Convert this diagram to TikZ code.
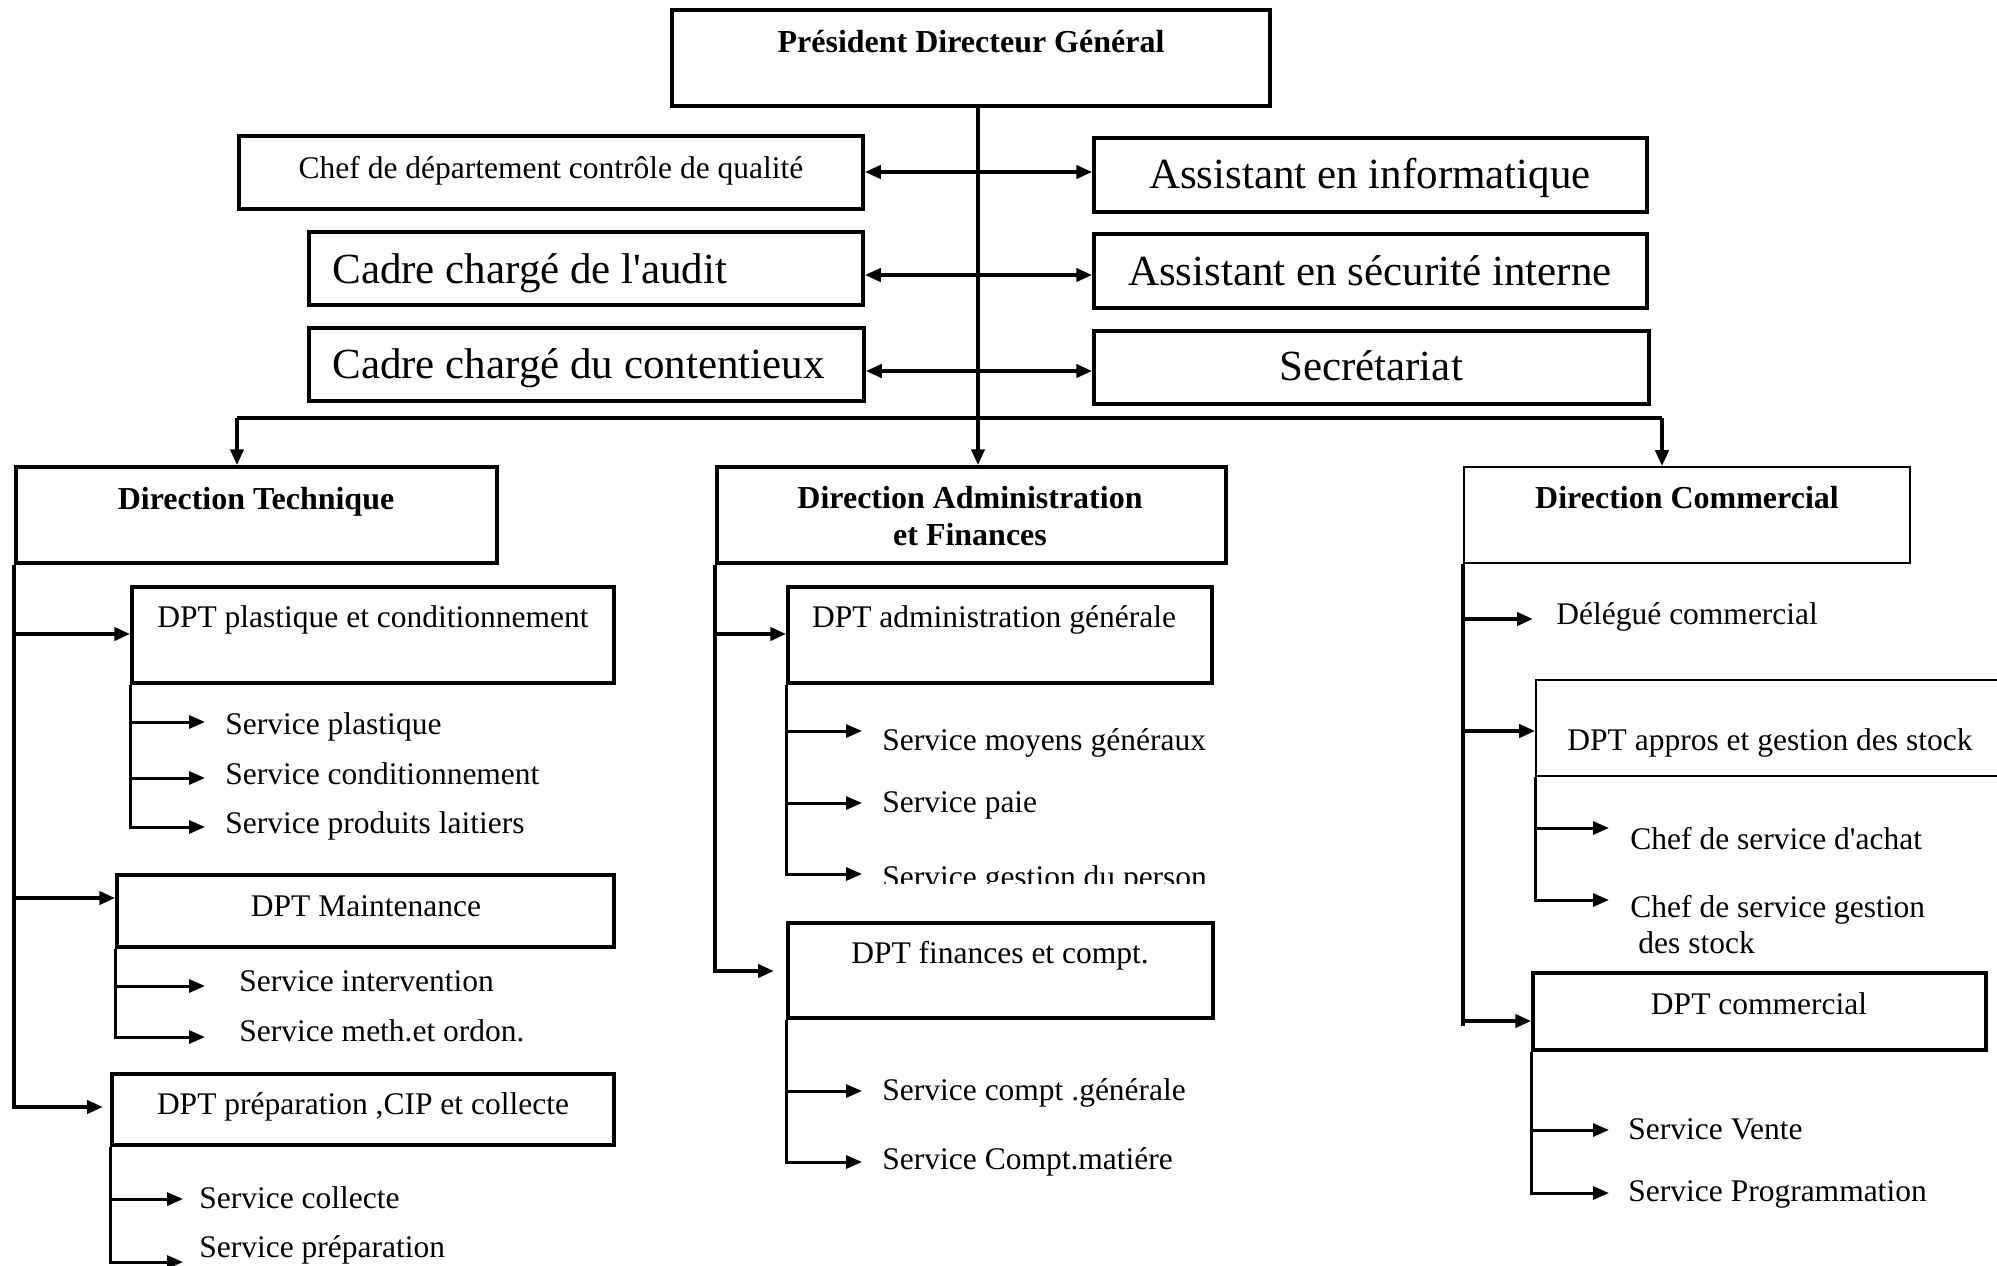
\documentclass[tikz,border=0pt]{standalone}
\usepackage{fontspec}
\setmainfont{Liberation Serif}
\usetikzlibrary{arrows.meta,fit}
\begin{document}
\begin{tikzpicture}[x=0.5pt,y=-0.5pt,
  box/.style={draw, line width=1.75pt, inner sep=0pt, rectangle},
  thinbox/.style={draw, line width=0.8pt, inner sep=0pt, rectangle},
  conn/.style={line width=2pt},
  arr/.style={conn, -{Triangle[length=8pt,width=6.5pt]}},
  darr/.style={conn, {Triangle[length=8pt,width=6.5pt]}-{Triangle[length=8pt,width=6.5pt]}},
  sarr/.style={line width=1.5pt, -{Triangle[length=8pt,width=6.5pt]}},
  sl/.style={inner sep=0pt, font=\fontsize{15.75}{19}\selectfont},
  ll/.style={inner sep=0pt, font=\fontsize{21.5}{26}\selectfont},
  bl/.style={inner sep=0pt, font=\fontsize{16}{18.5}\selectfont\bfseries},
]
\useasboundingbox (0,0) rectangle (1997,1265);

% ---------- top level ----------
\node[box, fit={(672,10) (1270,106)}] (pdg) {};
\node[bl, anchor=base] (pdgT) at (971,52) {Président Directeur Général};

\node[box, fit={(239,136) (863,209)}] (qual) {};
\node[sl, anchor=base] (qualT) at (551,178) {Chef de département contrôle de qualité};
\node[box, fit={(309,232) (863,305)}] (aud) {};
\node[ll, anchor=base west] (audT) at (332,283) {Cadre chargé de l\textquotesingle audit};
\node[box, fit={(309,328) (864,401)}] (cont) {};
\node[ll, anchor=base west] (contT) at (332,378) {Cadre chargé du contentieux};

\node[box, fit={(1094,138) (1647,212)}] (info) {};
\node[ll, anchor=base] (infoT) at (1370,188) {Assistant en informatique};
\node[box, fit={(1094,234) (1647,308)}] (secu) {};
\node[ll, anchor=base] (secuT) at (1370,285) {Assistant en sécurité interne};
\node[box, fit={(1094,331) (1649,404)}] (secr) {};
\node[ll, anchor=base] (secrT) at (1371,380) {Secrétariat};

% ---------- directions ----------
\node[box, fit={(16,467) (497,563)}] (dt) {};
\node[bl, anchor=base] (dtT) at (256,509) {Direction Technique};
\node[box, fit={(717,467) (1226,563)}] (daf) {};
\node[bl, anchor=base] (dafT1) at (970,508) {Direction Administration};
\node[bl, anchor=base] (dafT2) at (970,545) {et Finances};
\node[thinbox, fit={(1464,467) (1910,563)}] (dc) {};
\node[bl, anchor=base] (dcT) at (1687,508) {Direction Commercial};

% ---------- top connectors ----------
\coordinate (tx) at (978,0);
\draw[arr] (pdg.south -| tx) -- (daf.north -| tx);
\coordinate (h1) at (0,172);
\coordinate (h2) at (0,275);
\coordinate (h3) at (0,371);
\draw[darr] (h1 -| qual.east) -- (h1 -| info.west);
\draw[darr] (h2 -| aud.east) -- (h2 -| secu.west);
\draw[darr] (h3 -| cont.east) -- (h3 -| secr.west);
\coordinate (bL) at (237,418);
\coordinate (bR) at (1662,418);
\draw[conn] (bL) -- (bR);
\draw[arr] (bL) -- (bL |- dt.north);
\draw[arr] (bR) -- (bR |- dc.north);

% ---------- Direction Technique ----------
\node[box, fit={(132,587) (614,683)}] (dp1) {};
\node[sl, anchor=base] (dp1T) at (373,627) {DPT plastique et conditionnement};
\node[box, fit={(117,875) (614,947)}] (dm) {};
\node[sl, anchor=base] (dmT) at (366,916) {DPT Maintenance};
\node[box, fit={(112,1074) (614,1145)}] (dpp) {};
\node[sl, anchor=base] (dppT) at (363,1114) {DPT préparation ,CIP et collecte};

\coordinate (a1) at (0,634);
\coordinate (a2) at (0,898);
\coordinate (a3) at (103,1107);
\draw[arr] (dt.south west) |- (a3);
\draw[arr] (a1 -| dt.west) -- (a1 -| dp1.west);
\draw[arr] (a2 -| dt.west) -- (a2 -| dm.west);

\coordinate (s1) at (205,722);
\coordinate (s2) at (205,778);
\coordinate (s3) at (205,827);
\draw[sarr] (dp1.south west) |- (s3);
\draw[sarr] (s1 -| dp1.west) -- (s1);
\draw[sarr] (s2 -| dp1.west) -- (s2);
\node[sl, anchor=base west] (s1T) at (225,734) {Service plastique};
\node[sl, anchor=base west] (s2T) at (225,784) {Service conditionnement};
\node[sl, anchor=base west] (s3T) at (225,833) {Service produits laitiers};

\coordinate (s4) at (205,986);
\coordinate (s5) at (205,1037);
\draw[sarr] (dm.south west) |- (s5);
\draw[sarr] (s4 -| dm.west) -- (s4);
\node[sl, anchor=base west] (s4T) at (239,991) {Service intervention};
\node[sl, anchor=base west] (s5T) at (239,1041) {Service meth.et ordon.};

\coordinate (s6) at (183,1199);
\coordinate (s7) at (183,1262);
\draw[sarr] (dpp.south west) |- (s7);
\draw[sarr] (s6 -| dpp.west) -- (s6);
\node[sl, anchor=base west] (s6T) at (199,1208) {Service collecte};
\node[sl, anchor=base west] (s7T) at (199,1257) {Service préparation};

% ---------- Direction Administration et Finances ----------
\node[box, fit={(788,587) (1212,683)}] (dag) {};
\node[sl, anchor=base] (dagT) at (994,627) {DPT administration générale};
\node[box, fit={(788,923) (1213,1018)}] (dfc) {};
\node[sl, anchor=base] (dfcT) at (1000,963) {DPT finances et compt.};

\coordinate (b1) at (0,634);
\coordinate (b2) at (774,971);
\draw[arr] (daf.south west) |- (b2);
\draw[arr] (b1 -| daf.west) -- (b1 -| dag.west);

\coordinate (u1) at (862,731);
\coordinate (u2) at (862,803);
\coordinate (u3) at (862,874);
\draw[sarr] (dag.south west) |- (u3);
\draw[sarr] (u1 -| dag.west) -- (u1);
\draw[sarr] (u2 -| dag.west) -- (u2);
\node[sl, anchor=base west] (u1T) at (882,750) {Service moyens généraux};
\node[sl, anchor=base west] (u2T) at (882,812) {Service paie};
\begin{scope}
  \clip (860,840) rectangle (1300,883);
  \node[sl, anchor=base west] (u3T) at (882,887) {Service gestion du person};
\end{scope}

\coordinate (u4) at (862,1091);
\coordinate (u5) at (862,1162);
\draw[sarr] (dfc.south west) |- (u5);
\draw[sarr] (u4 -| dfc.west) -- (u4);
\node[sl, anchor=base west] (u4T) at (882,1100) {Service compt .générale};
\node[sl, anchor=base west] (u5T) at (882,1169) {Service Compt.matiére};

% ---------- Direction Commercial ----------
\node[thinbox, fit={(1536,680) (2010,776)}] (dap) {};
\node[sl, anchor=base] (dapT) at (1770,750) {DPT appros et gestion des stock};
\node[box, fit={(1533,973) (1986,1050)}] (dcom) {};
\node[sl, anchor=base] (dcomT) at (1759,1014) {DPT commercial};

\coordinate (c1) at (1533,619);
\coordinate (c2) at (0,731);
\coordinate (c3) at (0,1021);
\coordinate (cEnd) at (0,1026);
\draw[conn, line width=2.25pt] (dc.south west) -- (dc.south west |- cEnd);
\draw[arr] (c1 -| dc.west) -- (c1);
\draw[arr] (c2 -| dc.west) -- (c2 -| dap.west);
\draw[arr] (c3 -| dc.west) -- (c3 -| dcom.west);
\node[sl, anchor=base west] (delT) at (1556,624) {Délégué commercial};

\coordinate (v1) at (1609,828);
\coordinate (v2) at (1609,900);
\draw[sarr] (dap.south west) |- (v2);
\draw[sarr] (v1 -| dap.west) -- (v1);
\node[sl, anchor=base west] (v1T) at (1630,849) {Chef de service d\textquotesingle achat};
\node[sl, anchor=base west] (v2T) at (1630,917) {Chef de service gestion};
\node[sl, anchor=base west] (v2T2) at (1638,953) {des stock};

\coordinate (v3) at (1609,1130);
\coordinate (v4) at (1609,1193);
\draw[sarr] (dcom.south west) |- (v4);
\draw[sarr] (v3 -| dcom.west) -- (v3);
\node[sl, anchor=base west] (v3T) at (1628,1139) {Service Vente};
\node[sl, anchor=base west] (v4T) at (1628,1201) {Service Programmation};
\end{tikzpicture}
\end{document}
